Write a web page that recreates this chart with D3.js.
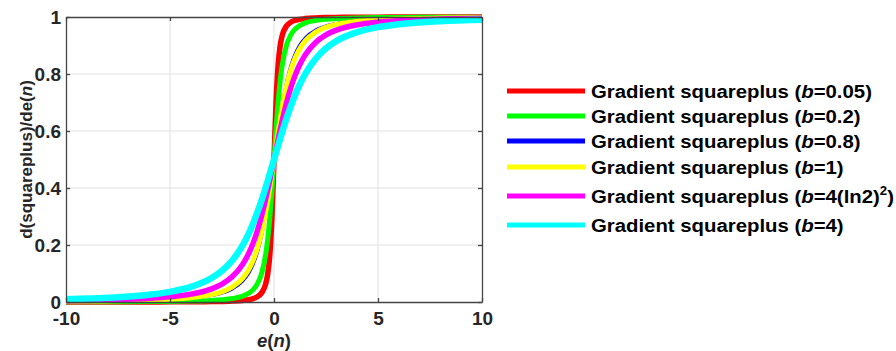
<!DOCTYPE html>
<html><head><meta charset="utf-8">
<script src="https://cdn.jsdelivr.net/npm/d3@7"></script>
<style>body{margin:0;background:#fff}svg{display:block}</style>
</head><body><svg id="c" width="896" height="351"></svg>
<script>
const xs = [-10,-8,-6,-5,-4,-3,-2.5,-2,-1.5,-1.2,-1,-0.8,-0.6,-0.4,-0.3,-0.2,-0.1,0,0.1,0.2,0.3,0.4,0.6,0.8,1,1.2,1.5,2,2.5,3,4,5,6,8,10];
const red = [0.0001,0.0002,0.0003,0.0005,0.0008,0.0014,0.0020,0.0031,0.0055,0.0085,0.0120,0.0185,0.0315,0.0636,0.0991,0.1667,0.2959,0.5,0.7041,0.8333,0.9009,0.9364,0.9685,0.9815,0.9880,0.9915,0.9945,0.9969,0.9980,0.9986,0.9992,0.9995,0.9997,0.9998,0.9999];
const green = [0.0005,0.0008,0.0014,0.0020,0.0031,0.0055,0.0078,0.0120,0.0208,0.0315,0.0436,0.0636,0.0991,0.1667,0.2215,0.2959,0.3909,0.5,0.6091,0.7041,0.7785,0.8333,0.9009,0.9364,0.9564,0.9685,0.9792,0.9880,0.9922,0.9945,0.9969,0.9980,0.9986,0.9992,0.9995];
const blue = [0.0020,0.0031,0.0055,0.0078,0.0120,0.0208,0.0292,0.0436,0.0705,0.0991,0.1273,0.1667,0.2215,0.2959,0.3410,0.3909,0.4444,0.5,0.5556,0.6091,0.6590,0.7041,0.7785,0.8333,0.8727,0.9009,0.9295,0.9564,0.9708,0.9792,0.9880,0.9922,0.9945,0.9969,0.9980];
const yellow = [0.0025,0.0039,0.0068,0.0097,0.0149,0.0257,0.0357,0.0528,0.0840,0.1159,0.1464,0.1877,0.2428,0.3143,0.3563,0.4019,0.4502,0.5,0.5498,0.5981,0.6437,0.6857,0.7572,0.8123,0.8536,0.8841,0.9160,0.9472,0.9643,0.9743,0.9851,0.9903,0.9932,0.9961,0.9975];
const magenta = [0.0047,0.0073,0.0128,0.0182,0.0276,0.0461,0.0627,0.0891,0.1328,0.1728,0.2075,0.2501,0.3014,0.3614,0.3942,0.4286,0.4640,0.5,0.5360,0.5714,0.6058,0.6386,0.6986,0.7499,0.7925,0.8272,0.8672,0.9109,0.9373,0.9539,0.9724,0.9818,0.9872,0.9927,0.9953];
const cyan = [0.0097,0.0149,0.0257,0.0357,0.0528,0.0840,0.1096,0.1464,0.2000,0.2428,0.2764,0.3143,0.3563,0.4019,0.4258,0.4502,0.4750,0.5,0.5250,0.5498,0.5742,0.5981,0.6437,0.6857,0.7236,0.7572,0.8000,0.8536,0.8904,0.9160,0.9472,0.9643,0.9743,0.9851,0.9903];
const seriesB = ["0.05","0.2","0.8","1","4(ln2)","4"];
const xTicks = [-10,-5,0,5,10];
const yTicks = [0,0.2,0.4,0.6,0.8,1];

const series = [
  {vals: red, color:"#ff0000", w:5.5},
  {vals: green, color:"#00ff00", w:5},
  {vals: blue, color:"#0000ff", w:2},
  {vals: yellow, color:"#ffff00", w:5},
  {vals: magenta, color:"#ff00ff", w:5.5},
  {vals: cyan, color:"#00ffff", w:6.5}
];

const L=66, R=482, T=17, B=302;
const x = d3.scaleLinear().domain([-10,10]).range([L,R]);
const y = d3.scaleLinear().domain([0,1]).range([B,T]);
const svg = d3.select("#c");
const font = "'Liberation Sans', Arial, sans-serif";

// grid
const g = svg.append("g");
g.selectAll("line.gx").data(xTicks.slice(1,-1)).join("line")
  .attr("x1",d=>x(d)).attr("x2",d=>x(d)).attr("y1",T).attr("y2",B)
  .attr("stroke","#e1e1e1").attr("stroke-width",1);
g.selectAll("line.gy").data(yTicks.slice(1,-1)).join("line")
  .attr("y1",d=>y(d)).attr("y2",d=>y(d)).attr("x1",L).attr("x2",R)
  .attr("stroke","#e1e1e1").attr("stroke-width",1);

// lines
const line = d3.line().x((d,i)=>x(xs[i])).y(d=>y(d)).curve(d3.curveMonotoneX);
svg.append("clipPath").attr("id","clp").append("rect")
  .attr("x",L).attr("y",T-3).attr("width",R-L).attr("height",B-T+6);
svg.append("g").attr("clip-path","url(#clp)").selectAll("path").data(series).join("path")
  .attr("d",d=>line(d.vals)).attr("fill","none").attr("stroke",d=>d.color)
  .attr("stroke-width",d=>d.w).attr("stroke-linejoin","round");

// axes
const axColor="#444";
const fmt = d => String(+(+d).toFixed(1)).replace("\u2212","-");
const xa = svg.append("g").attr("transform",`translate(0,${B})`)
  .call(d3.axisBottom(x).tickValues(xTicks).tickSizeInner(-4).tickSizeOuter(0).tickFormat(fmt));
const xt = svg.append("g").attr("transform",`translate(0,${T})`)
  .call(d3.axisTop(x).tickValues(xTicks).tickSizeInner(-4).tickSizeOuter(0).tickFormat(""));
const ya = svg.append("g").attr("transform",`translate(${L},0)`)
  .call(d3.axisLeft(y).tickValues(yTicks).tickSizeInner(-4).tickSizeOuter(0).tickPadding(5).tickFormat(fmt));
const yr = svg.append("g").attr("transform",`translate(${R},0)`)
  .call(d3.axisRight(y).tickValues(yTicks).tickSizeInner(-4).tickSizeOuter(0).tickFormat(""));
[xa,xt,ya,yr].forEach(a=>{
  a.select(".domain").attr("stroke",axColor).attr("stroke-width",1.3);
  a.selectAll(".tick line").attr("stroke",axColor).attr("stroke-width",1.3);
  a.selectAll(".tick text").attr("fill","#262626").attr("font-family",font)
    .attr("font-size",19).attr("font-weight","bold");
});
xa.selectAll(".tick text").attr("y",23).attr("dy",0);
ya.selectAll(".tick text").attr("dy","0.36em");

// axis labels
const xl = svg.append("text").attr("x",x(0)).attr("y",347).attr("text-anchor","middle")
  .attr("font-family",font).attr("font-size",18.5).attr("font-weight","bold").attr("fill","#262626");
xl.append("tspan").attr("font-style","italic").text("e");
xl.append("tspan").text("(");
xl.append("tspan").attr("font-style","italic").text("n");
xl.append("tspan").text(")");

const yl = svg.append("text").attr("transform",`translate(32,${(T+B)/2}) rotate(-90)`)
  .attr("text-anchor","middle").attr("font-family",font).attr("font-size",17)
  .attr("font-weight","bold").attr("fill","#262626");
yl.append("tspan").text("d(squareplus)/de(");
yl.append("tspan").attr("font-style","italic").text("n");
yl.append("tspan").text(")");

// legend
const legY = [91,116,141,167,196,225];
const leg = svg.append("g");
series.forEach((s,i)=>{
  leg.append("line").attr("x1",507).attr("x2",585).attr("y1",legY[i]).attr("y2",legY[i])
    .attr("stroke",s.color).attr("stroke-width",5);
  const t = leg.append("text").attr("transform",`translate(591,${legY[i]+6.5}) scale(1.1,1)`)
    .attr("font-family",font).attr("font-size",18.5).attr("font-weight","bold").attr("fill","#000");
  t.append("tspan").text("Gradient squareplus (");
  t.append("tspan").attr("font-style","italic").text("b");
  if (i===4) {
    t.append("tspan").text("=4(ln2)");
    t.append("tspan").attr("font-size",12).attr("dy",-8).text("2");
    t.append("tspan").attr("dy",8).text(")");
  } else {
    t.append("tspan").text("=" + seriesB[i] + ")");
  }
});
</script></body></html>
